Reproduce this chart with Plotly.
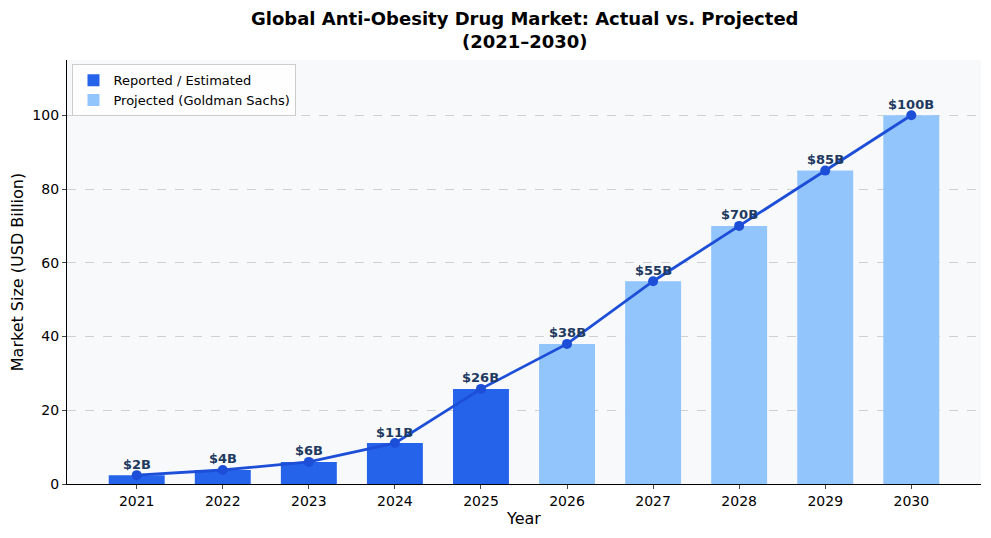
import plotly.graph_objects as go

years = [2021, 2022, 2023, 2024, 2025, 2026, 2027, 2028, 2029, 2030]
values = [2.4, 3.8, 6.0, 11.1, 25.8, 38, 55, 70, 85, 100]
labels = ["$2B", "$4B", "$6B", "$11B", "$26B", "$38B", "$55B", "$70B", "$85B", "$100B"]
reported_years = years[:5]
reported_vals = values[:5]
projected_years = years[5:]
projected_vals = values[5:]

FONT = "DejaVu Sans"

fig = go.Figure()
fig.add_trace(go.Bar(x=reported_years, y=reported_vals, name="Reported / Estimated",
                     marker=dict(color="#2563eb", line=dict(width=0)), width=0.65))
fig.add_trace(go.Bar(x=projected_years, y=projected_vals, name="Projected (Goldman Sachs)",
                     marker=dict(color="#93c5fd", line=dict(width=0)), width=0.65))
fig.add_trace(go.Scatter(x=years, y=values, mode="lines+markers", showlegend=False,
                         line=dict(color="#1d4ed8", width=2.8),
                         marker=dict(color="#1d4ed8", size=10)))
for x, y, t in zip(years, values, labels):
    fig.add_annotation(x=x, y=y, text="<b>%s</b>" % t, showarrow=False, yshift=11,
                       font=dict(family=FONT, size=13, color="#1e3a5f"))

fig.add_annotation(xref="paper", yref="paper", x=0.5, y=1.0, yshift=6,
                   xanchor="center", yanchor="bottom", showarrow=False,
                   text="<b>Global Anti-Obesity Drug Market: Actual vs. Projected<br>(2021–2030)</b>",
                   font=dict(family=FONT, size=18, color="black"))

fig.update_layout(
    width=991, height=538,
    barmode="overlay",
    paper_bgcolor="white", plot_bgcolor="#f8f9fa",
    margin=dict(l=59, r=18, t=52, b=62, autoexpand=False),
    font=dict(family=FONT, size=14, color="black"),
    legend=dict(x=0.006, y=0.99, xanchor="left", yanchor="top",
                bgcolor="rgba(255,255,255,0.8)", bordercolor="#cccccc", borderwidth=1,
                font=dict(family=FONT, size=13), traceorder="normal", tracegroupgap=0,
                itemwidth=30),
    xaxis=dict(range=[2020.19, 2030.81], tickmode="array", tickvals=years,
               ticktext=[str(y) for y in years], showgrid=False, showline=True,
               linecolor="black", linewidth=1.2, ticks="outside", ticklen=4,
               tickfont=dict(size=14), title=dict(text="Year", font=dict(size=16), standoff=4),
               zeroline=False, automargin=False),
    yaxis=dict(range=[0, 115], tickvals=[0, 20, 40, 60, 80, 100], showgrid=True,
               gridcolor="#d0d0d0", griddash="dash", gridwidth=1, showline=True,
               linecolor="black", linewidth=1.2, ticks="outside", ticklen=4,
               tickfont=dict(size=14), zeroline=False, automargin=False,
               title=dict(text="Market Size (USD Billion)", font=dict(size=16), standoff=6)),
)

fig.write_html("out.html")
